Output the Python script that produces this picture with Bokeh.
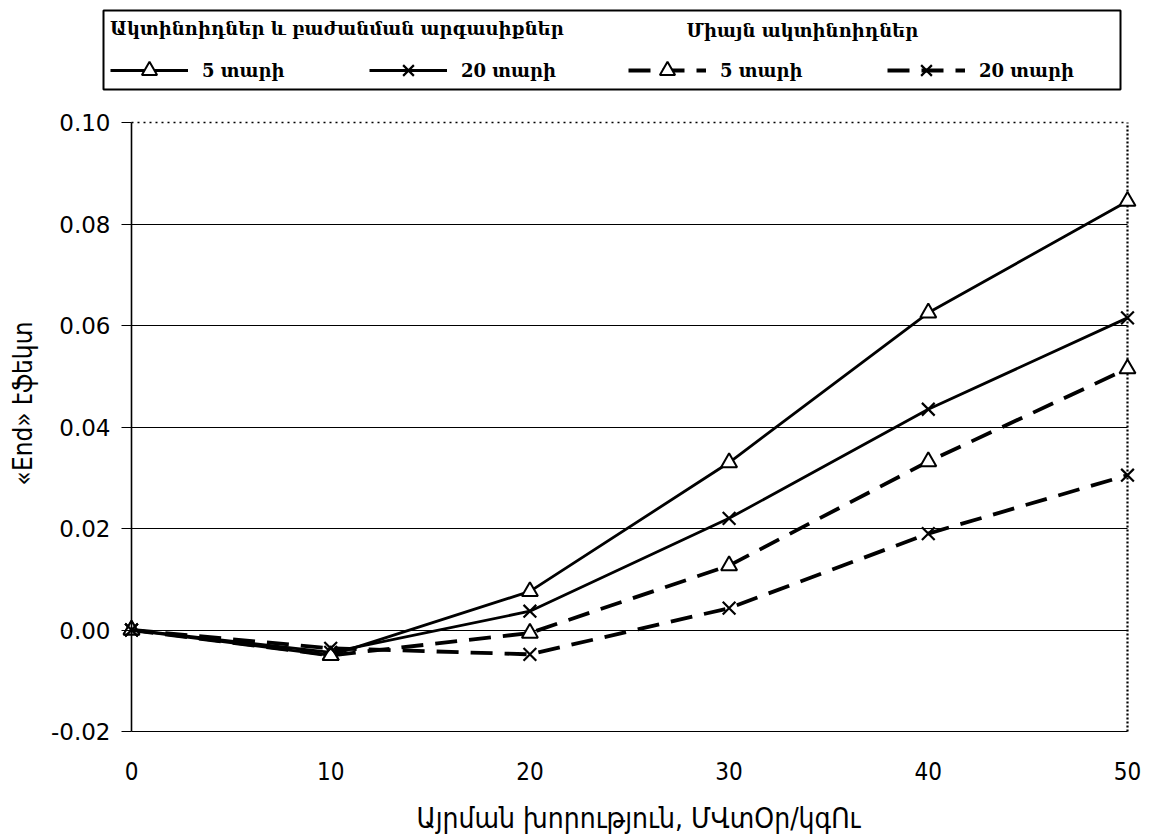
import math

from bokeh.plotting import figure
from bokeh.models import (Range1d, FixedTicker, Grid, LinearAxis, Legend, LegendItem,
                          Label, BoxAnnotation)
from bokeh.embed import file_html
from bokeh.resources import INLINE

# Burnup depth, MWd/kgU
burnup = [0, 10, 20, 30, 40, 50]

# "End" effect: actinides + fission products
act_fp_5y = [0.0, -0.0050, 0.0076, 0.0330, 0.0625, 0.0845]
act_fp_20y = [0.0, -0.0044, 0.0037, 0.0220, 0.0435, 0.0615]
# "End" effect: actinides only
act_5y = [0.0, -0.0050, -0.0006, 0.0127, 0.0332, 0.0515]
act_20y = [0.0, -0.0036, -0.0048, 0.0043, 0.0190, 0.0305]

x_ticks = [0, 10, 20, 30, 40, 50]
y_ticks = [-0.02, 0.0, 0.02, 0.04, 0.06, 0.08, 0.10]
y_tick_labels = {-0.02: "-0.02", 0.0: "0.00", 0.02: "0.02", 0.04: "0.04",
                 0.06: "0.06", 0.08: "0.08", 0.10: "0.10"}

group_a_title = "Ակտինոիդներ և բաժանման արգասիքներ"
group_b_title = "Միայն ակտինոիդներ"
label_5y = "5 տարի"
label_20y = "20 տարի"
x_title = "Այրման խորություն, ՄՎտՕր/կգՈւ"
y_title = "«End» էֆեկտ"

X_MIN, X_MAX = 0, 50
Y_MIN, Y_MAX = -0.02, 0.10

# Canvas size and where the data box sits on it (pixels from top-left).
W, H = 1152, 836
BOX_L, BOX_R, BOX_T, BOX_B = 131, 1127, 122, 731

# The frame fills the whole canvas so nothing (axes, legend) gets clipped;
# the ranges are stretched so the data box lands at BOX_*.
kx = (BOX_R - BOX_L) / (X_MAX - X_MIN)
ky = (BOX_B - BOX_T) / (Y_MAX - Y_MIN)
x_range = Range1d(X_MIN - BOX_L / kx, X_MAX + (W - BOX_R) / kx)
y_range = Range1d(Y_MIN - (H - BOX_B) / ky, Y_MAX + BOX_T / ky)

p = figure(width=W, height=H, output_backend="svg", toolbar_location=None,
           x_range=x_range, y_range=y_range,
           x_axis_type=None, y_axis_type=None, title=None, min_border=0)
p.outline_line_color = None
p.background_fill_color = "white"
p.border_fill_color = "white"

# y axis on x = 0
yax = LinearAxis(fixed_location=X_MIN, bounds=(Y_MIN, Y_MAX),
                 ticker=FixedTicker(ticks=y_ticks),
                 major_label_overrides=y_tick_labels)
yax.axis_line_color = "black"
yax.axis_line_width = 1.6
yax.major_tick_out = 10
yax.major_tick_in = 0
yax.major_tick_line_color = "black"
yax.major_tick_line_width = 1.2
yax.minor_tick_line_color = None
yax.major_label_standoff = 11
yax.major_label_text_font = "DejaVu Sans"
yax.major_label_text_font_size = "23px"
yax.major_label_text_color = "black"
p.add_layout(yax, "left")

# x axis on y = -0.02 (labels only; the bottom rule is drawn by the grid)
xax = LinearAxis(fixed_location=Y_MIN, bounds=(X_MIN, X_MAX),
                 ticker=FixedTicker(ticks=x_ticks))
xax.axis_line_color = None
xax.major_tick_line_color = None
xax.minor_tick_line_color = None
xax.major_tick_out = 0
xax.major_tick_in = 0
xax.major_label_standoff = 30
xax.major_label_text_font = "'Liberation Sans Narrow', 'DejaVu Sans Condensed'"
xax.major_label_text_font_size = "24px"
xax.major_label_text_color = "black"
p.add_layout(xax, "below")

# axis titles
p.add_layout(Label(x=22, y=H - 403, x_units="screen", y_units="screen",
                   text=y_title, angle=math.pi / 2,
                   text_font="DejaVu Sans Condensed", text_font_size="26px",
                   text_align="center", text_baseline="middle", text_color="black"))
p.add_layout(Label(x=638, y=H - 818, x_units="screen", y_units="screen",
                   text=x_title,
                   text_font="DejaVu Sans Condensed", text_font_size="28px",
                   text_align="center", text_baseline="middle", text_color="black"))

# horizontal rules inside the data box
hgrid = Grid(dimension=1, ticker=FixedTicker(ticks=y_ticks[:-1]),
             grid_line_color="black", grid_line_width=1.2,
             cross_bounds=(X_MIN, X_MAX))
top_rule = Grid(dimension=1, ticker=FixedTicker(ticks=[Y_MAX]),
                grid_line_color="black", grid_line_width=1.5,
                grid_line_dash="dotted", cross_bounds=(X_MIN, X_MAX))
right_rule = Grid(dimension=0, ticker=FixedTicker(ticks=[X_MAX]),
                  grid_line_color="black", grid_line_width=2.2,
                  grid_line_dash="2 2", cross_bounds=(Y_MIN, Y_MAX))
p.add_layout(hgrid)
p.add_layout(top_rule)
p.add_layout(right_rule)

SOLID_W = 2.8
DASH_W = 3.8
DASH = "22 12"


def series(y, dashed, marker):
    ln = p.line(burnup, y, line_color="black",
                line_width=DASH_W if dashed else SOLID_W,
                line_dash=DASH if dashed else "solid")
    if marker == "triangle":
        mk = p.scatter(burnup, y, marker="triangle", size=16,
                       fill_color="white", line_color="black", line_width=2)
    else:
        mk = p.scatter(burnup, y, marker="x", size=18,
                       line_color="black", line_width=2.2)
    return [ln, mk]


r_a5 = series(act_fp_5y, False, "triangle")
r_a20 = series(act_fp_20y, False, "x")
r_m5 = series(act_5y, True, "triangle")
r_m20 = series(act_20y, True, "x")

# legend block above the data box
LEG_L, LEG_R, LEG_T, LEG_B = 103, 1120, 10, 89

legend = Legend(items=[LegendItem(label=label_5y, renderers=r_a5),
                       LegendItem(label=label_20y, renderers=r_a20),
                       LegendItem(label=label_5y, renderers=r_m5),
                       LegendItem(label=label_20y, renderers=r_m20)],
                orientation="horizontal",
                location=(110, H - LEG_B),
                title=group_a_title,
                title_text_font="DejaVu Serif",
                title_text_font_style="bold",
                title_text_font_size="18px",
                title_text_color="black",
                title_standoff=12,
                label_text_font="DejaVu Serif",
                label_text_font_style="bold",
                label_text_font_size="18px",
                label_text_color="black",
                glyph_width=78, glyph_height=38,
                label_height=38, label_width=167,
                label_standoff=14, spacing=0, padding=0, margin=0,
                border_line_color=None, background_fill_alpha=0)
p.add_layout(legend, "center")

p.add_layout(Label(x=686, y=H - 30, x_units="screen", y_units="screen",
                   text=group_b_title, text_font="DejaVu Serif",
                   text_font_style="bold", text_font_size="18px",
                   text_baseline="middle", text_color="black"))

p.add_layout(BoxAnnotation(left=LEG_L, right=LEG_R, top=H - LEG_T, bottom=H - LEG_B,
                           left_units="screen", right_units="screen",
                           top_units="screen", bottom_units="screen",
                           fill_alpha=0, line_color="black", line_alpha=1,
                           line_width=2))

open("out.html", "w").write(file_html(p, INLINE))
